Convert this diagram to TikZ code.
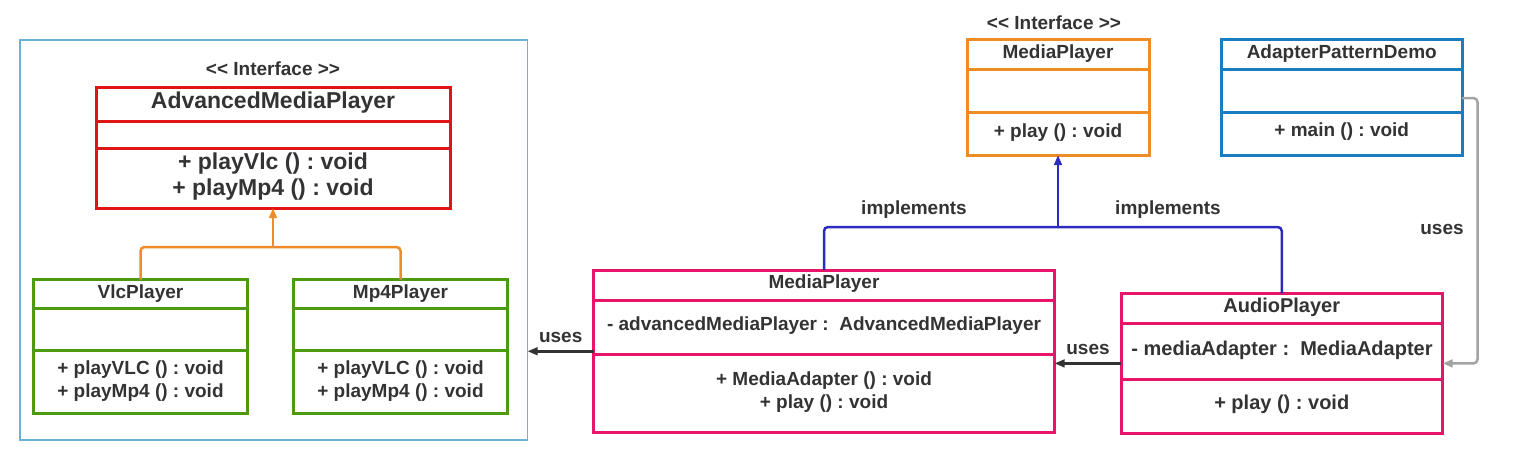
\documentclass[tikz,border=0pt]{standalone}
\usepackage{fontspec}
\setmainfont{Liberation Sans}
\usetikzlibrary{arrows.meta}
\frenchspacing
\definecolor{txt}{HTML}{333333}
\definecolor{cred}{HTML}{E01414}
\definecolor{corange}{HTML}{EF8C24}
\definecolor{cgreen}{HTML}{4E9A0E}
\definecolor{cpink}{HTML}{E8146A}
\definecolor{cblue}{HTML}{1A7DBF}
\definecolor{cimpl}{HTML}{2B2BBE}
\definecolor{cgray}{HTML}{A3A3A3}
\definecolor{cframe}{HTML}{6EB2DA}
\tikzset{
  classbox/.style={draw=#1, line width=3pt, inner sep=0pt, outer sep=0pt},
  divider/.style={draw=#1, line width=3pt},
  lbl/.style={text=txt, inner sep=0pt, yshift=-1.5pt, font=\frenchspacing\fontsize{19}{23}\selectfont\bfseries, align=center},
  lblbig/.style={text=txt, inner sep=0pt, yshift=-1.5pt, font=\frenchspacing\fontsize{23}{26.3}\selectfont\bfseries, align=center},
  lblmid/.style={text=txt, inner sep=0pt, yshift=-1.5pt, font=\frenchspacing\fontsize{20}{23}\selectfont\bfseries, align=center},
  conn/.style={line width=2.5pt, rounded corners=4pt},
  tip/.style={-{Triangle[length=10pt,width=7.5pt]}},
}
\begin{document}
\begin{tikzpicture}[x=1pt,y=-1pt]
\useasboundingbox (0,0) rectangle (1522,451);
% frame
\node[draw=cframe, line width=1.5pt, inner sep=0pt, outer sep=0pt, minimum width=507.5pt, minimum height=400pt] (frame) at (273.75,240) {};

% AdvancedMediaPlayer
\node[lbl] (amp-st) at (273,67.5) {{<}{<} Interface {>}{>}};
\node[classbox=cred, minimum width=354pt, minimum height=121pt] (amp) at (273,147.5) {};
\draw[divider=cred] (amp.west |- 0,121) -- (amp.east |- 0,121);
\draw[divider=cred] (amp.west |- 0,148) -- (amp.east |- 0,148);
\node[lblbig] (amp-n) at (273,101) {AdvancedMediaPlayer};
\node[lblbig] (amp-m) at (273,175) {+ playVlc () : void\\+ playMp4 () : void};

% VlcPlayer
\node[classbox=cgreen, minimum width=214pt, minimum height=134pt] (vlc) at (140.5,346.5) {};
\draw[divider=cgreen] (vlc.west |- 0,308.5) -- (vlc.east |- 0,308.5);
\draw[divider=cgreen] (vlc.west |- 0,350.5) -- (vlc.east |- 0,350.5);
\node[lbl] (vlc-n) at (140.5,292.5) {VlcPlayer};
\node[lbl] (vlc-m) at (140.5,379.5) {+ playVLC () : void\\+ playMp4 () : void};

% Mp4Player
\node[classbox=cgreen, minimum width=214pt, minimum height=134pt] (mp4) at (400.5,346.5) {};
\draw[divider=cgreen] (mp4.west |- 0,308.5) -- (mp4.east |- 0,308.5);
\draw[divider=cgreen] (mp4.west |- 0,350.5) -- (mp4.east |- 0,350.5);
\node[lbl] (mp4-n) at (400.5,292.5) {Mp4Player};
\node[lbl] (mp4-m) at (400.5,379.5) {+ playVLC () : void\\+ playMp4 () : void};

% MediaPlayer (adapter)
\node[classbox=cpink, minimum width=461pt, minimum height=162.5pt] (mpc) at (824,351.25) {};
\draw[divider=cpink] (mpc.west |- 0,300) -- (mpc.east |- 0,300);
\draw[divider=cpink] (mpc.west |- 0,354) -- (mpc.east |- 0,354);
\node[lbl] (mpc-n) at (824,282) {MediaPlayer};
\node[lbl] (mpc-a) at (824,324) {- advancedMediaPlayer :~ AdvancedMediaPlayer};
\node[lbl] (mpc-m) at (824,391) {+ MediaAdapter () : void\\+ play () : void};

% MediaPlayer interface
\node[lbl] (if-st) at (1054,21.7) {{<}{<} Interface {>}{>}};
\node[classbox=corange, minimum width=182pt, minimum height=115.5pt] (iface) at (1058,97.25) {};
\draw[divider=corange] (iface.west |- 0,69.5) -- (iface.east |- 0,69.5);
\draw[divider=corange] (iface.west |- 0,112.5) -- (iface.east |- 0,112.5);
\node[lbl] (if-n) at (1058,52) {MediaPlayer};
\node[lbl] (if-m) at (1058,130.7) {+ play () : void};

% AdapterPatternDemo
\node[classbox=cblue, minimum width=240.5pt, minimum height=115.5pt] (demo) at (1341.75,97.25) {};
\draw[divider=cblue] (demo.west |- 0,69.5) -- (demo.east |- 0,69.5);
\draw[divider=cblue] (demo.west |- 0,112.5) -- (demo.east |- 0,112.5);
\node[lbl] (demo-n) at (1341.75,52.3) {AdapterPatternDemo};
\node[lbl] (demo-m) at (1341.75,130.5) {+ main () : void};

% AudioPlayer
\node[classbox=cpink, minimum width=321.5pt, minimum height=140pt] (audio) at (1281.75,363.4) {};
\draw[divider=cpink] (audio.west |- 0,323.5) -- (audio.east |- 0,323.5);
\draw[divider=cpink] (audio.west |- 0,379) -- (audio.east |- 0,379);
\node[lblmid] (audio-n) at (1281.75,306) {AudioPlayer};
\node[lblmid] (audio-a) at (1282,349) {- mediaAdapter :~ MediaAdapter};
\node[lblmid] (audio-m) at (1281.75,403.3) {+ play () : void};

% connectors
\coordinate (oj) at (273,247);
\draw[conn, corange] (vlc.north) |- (oj) -| (mp4.north);
\draw[conn, corange, tip] (oj) -- (amp.south);

\coordinate (ij) at (1058,227);
\draw[conn, cimpl] (mpc.north) |- (ij) -| (audio.north);
\draw[conn, cimpl, tip] (ij) -- (iface.south);
\node[lbl] (impl1) at (914,208.3) {implements};
\node[lbl] (impl2) at (1168,208.3) {implements};

\coordinate (g1) at (1477.5,98);
\draw[conn, cgray, tip] (demo.east |- g1) -- (g1) |- (audio.east);
\node[lbl] (uses3) at (1442,228.3) {uses};

\draw[conn, txt, tip] (audio.west) -- (audio.west -| mpc.east);
\node[lbl] (uses2) at (1088,348) {uses};

\draw[conn, txt, tip] (mpc.west) -- (mpc.west -| frame.east);
\node[lbl] (uses1) at (560.7,336) {uses};
\end{tikzpicture}
\end{document}
